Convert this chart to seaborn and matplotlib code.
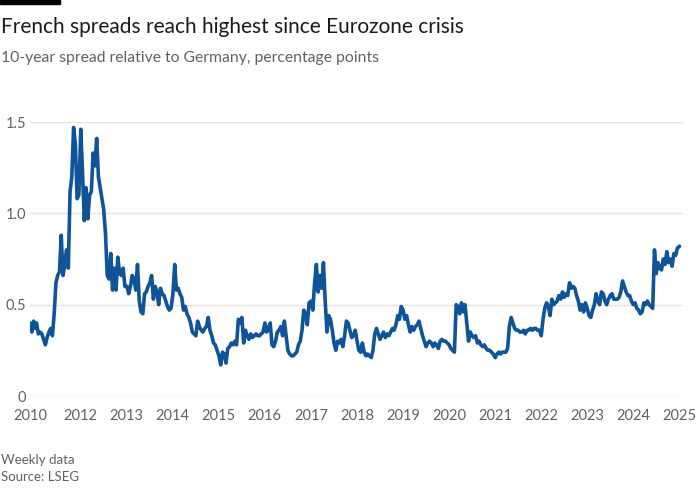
import pandas as pd
import matplotlib.pyplot as plt
import seaborn as sns

TITLE = "French spreads reach highest since Eurozone crisis"
SUBTITLE = "10-year spread relative to Germany, percentage points"
NOTE = "Weekly data"
SOURCE = "Source: LSEG"

# France-Germany 10y spread, every two weeks
spread_2010 = [0.40, 0.35, 0.41]
spread_2011 = [0.37, 0.40, 0.34, 0.35, 0.34, 0.31, 0.28, 0.32, 0.35, 0.37, 0.33, 0.45, 0.62,
               0.66, 0.68, 0.88, 0.66, 0.72, 0.80, 0.70, 1.12, 1.20, 1.47, 1.38, 1.08, 1.10]
spread_2012 = [1.46, 1.22, 0.96, 1.14, 0.97, 1.10, 1.12, 1.33, 1.26, 1.41, 1.20, 1.14, 1.08,
               1.02, 0.89, 0.66, 0.64, 0.78, 0.58, 0.70, 0.58, 0.76, 0.67, 0.66, 0.70, 0.60]
spread_2013 = [0.60, 0.56, 0.60, 0.66, 0.64, 0.58, 0.72, 0.52, 0.46, 0.45, 0.56, 0.57, 0.60,
               0.62, 0.66, 0.53, 0.60, 0.57, 0.50, 0.59, 0.56, 0.55, 0.52, 0.49, 0.47, 0.48]
spread_2014 = [0.56, 0.72, 0.58, 0.59, 0.56, 0.54, 0.47, 0.49, 0.45, 0.43, 0.40, 0.35, 0.34,
               0.33, 0.41, 0.38, 0.36, 0.35, 0.37, 0.38, 0.43, 0.36, 0.33, 0.29, 0.28, 0.25]
spread_2015 = [0.22, 0.17, 0.24, 0.23, 0.18, 0.26, 0.27, 0.29, 0.28, 0.30, 0.28, 0.42, 0.40,
               0.43, 0.29, 0.36, 0.33, 0.31, 0.34, 0.32, 0.33, 0.34, 0.33, 0.33, 0.34, 0.35]
spread_2016 = [0.40, 0.35, 0.37, 0.40, 0.28, 0.27, 0.30, 0.35, 0.36, 0.38, 0.33, 0.41, 0.33,
               0.25, 0.23, 0.22, 0.22, 0.23, 0.24, 0.28, 0.30, 0.36, 0.47, 0.45, 0.39, 0.51]
spread_2017 = [0.52, 0.47, 0.62, 0.72, 0.57, 0.66, 0.59, 0.73, 0.52, 0.35, 0.44, 0.42, 0.36,
               0.29, 0.25, 0.30, 0.29, 0.31, 0.27, 0.33, 0.41, 0.40, 0.36, 0.32, 0.33, 0.36]
spread_2018 = [0.30, 0.25, 0.24, 0.29, 0.24, 0.22, 0.23, 0.22, 0.21, 0.25, 0.34, 0.37, 0.34,
               0.31, 0.33, 0.35, 0.32, 0.34, 0.33, 0.35, 0.37, 0.36, 0.39, 0.44, 0.42, 0.49]
spread_2019 = [0.47, 0.42, 0.44, 0.39, 0.35, 0.38, 0.36, 0.38, 0.39, 0.41, 0.37, 0.33, 0.30,
               0.27, 0.29, 0.30, 0.29, 0.27, 0.29, 0.28, 0.26, 0.30, 0.31, 0.30, 0.30, 0.29]
spread_2020 = [0.28, 0.26, 0.25, 0.24, 0.50, 0.49, 0.45, 0.51, 0.46, 0.50, 0.40, 0.30, 0.35,
               0.33, 0.32, 0.33, 0.29, 0.30, 0.28, 0.27, 0.28, 0.26, 0.25, 0.25, 0.24, 0.23]
spread_2021 = [0.21, 0.23, 0.24, 0.23, 0.24, 0.24, 0.24, 0.26, 0.38, 0.43, 0.40, 0.37, 0.36,
               0.36, 0.35, 0.35, 0.36, 0.34, 0.36, 0.36, 0.37, 0.36, 0.37, 0.37, 0.36, 0.36]
spread_2022 = [0.33, 0.42, 0.48, 0.51, 0.49, 0.44, 0.53, 0.50, 0.51, 0.52, 0.55, 0.53, 0.57,
               0.54, 0.56, 0.55, 0.62, 0.59, 0.60, 0.59, 0.55, 0.52, 0.47, 0.50, 0.46, 0.51]
spread_2023 = [0.48, 0.44, 0.43, 0.47, 0.50, 0.56, 0.52, 0.50, 0.57, 0.56, 0.52, 0.50, 0.53,
               0.55, 0.56, 0.53, 0.53, 0.53, 0.54, 0.57, 0.63, 0.60, 0.57, 0.55, 0.55, 0.52]
spread_2024 = [0.50, 0.51, 0.48, 0.47, 0.45, 0.46, 0.51, 0.50, 0.52, 0.50, 0.49, 0.48, 0.80,
               0.67, 0.73, 0.70, 0.69, 0.75, 0.72, 0.79, 0.73, 0.75, 0.71, 0.78, 0.77, 0.81]
spread_2025 = [0.82]

# first reading date of each block
starts = ["2010-11-26"] + [f"{y}-01-02" for y in range(2011, 2025)] + ["2025-01-03"]
blocks = [spread_2010, spread_2011, spread_2012, spread_2013, spread_2014, spread_2015,
          spread_2016, spread_2017, spread_2018, spread_2019, spread_2020, spread_2021,
          spread_2022, spread_2023, spread_2024, spread_2025]

frames = []
for start, vals in zip(starts, blocks):
    dates = pd.date_range(start, periods=len(vals), freq="14D")
    frames.append(pd.DataFrame({"date": dates, "spread": vals}))
df = pd.concat(frames, ignore_index=True)

sns.set_theme(style="white")
plt.rcParams["font.family"] = ["Lato", "DejaVu Sans"]

GREY = "#66605c"
GRID = "#e9e3dd"

fig = plt.figure(figsize=(7, 5), dpi=100)
fig.patch.set_facecolor("white")
ax = fig.add_axes([0.043, 0.208, 0.933, 0.548])

sns.lineplot(data=df, x="date", y="spread", ax=ax, color="#0f5499", linewidth=2.6)

ax.set_ylim(0, 1.5)
ax.set_yticks([0, 0.5, 1.0, 1.5])
ax.set_yticklabels(["0", "0.5", "1.0", "1.5"])
ax.grid(axis="y", color=GRID, linewidth=1)
ax.grid(axis="x", visible=False)

x0 = pd.Timestamp("2010-11-26")
ax.set_xlim(x0, pd.Timestamp("2025-02-01"))
ticks = [x0] + [pd.Timestamp(f"{y}-01-01") for y in range(2011, 2026)]
labels = ["2010", ""] + [str(y) for y in range(2012, 2026)]
ax.set_xticks(ticks)
ax.set_xticklabels(labels)

for s in ax.spines.values():
    s.set_visible(False)
ax.tick_params(axis="y", length=0, pad=3, labelcolor=GREY, labelsize=10.5)
ax.tick_params(axis="x", length=6, width=1, color="#e2dbd4", labelcolor=GREY,
               labelsize=10.5, pad=3)
ax.set_xlabel("")
ax.set_ylabel("")

# header and footer
fig.patches.append(plt.Rectangle((0, 0.992), 0.086, 0.008, transform=fig.transFigure,
                                 color="black"))
fig.text(0.002, 1 - 33 / 500, TITLE, fontsize=15, color="#1a1a1a", va="baseline")
fig.text(0.002, 1 - 62 / 500, SUBTITLE, fontsize=11.3, color=GREY, va="baseline")
fig.text(0.002, 1 - 464 / 500, NOTE, fontsize=9.5, color=GREY, va="baseline")
fig.text(0.002, 1 - 481 / 500, SOURCE, fontsize=9.5, color=GREY, va="baseline")

fig.savefig("out.png", dpi=100, facecolor="white")
